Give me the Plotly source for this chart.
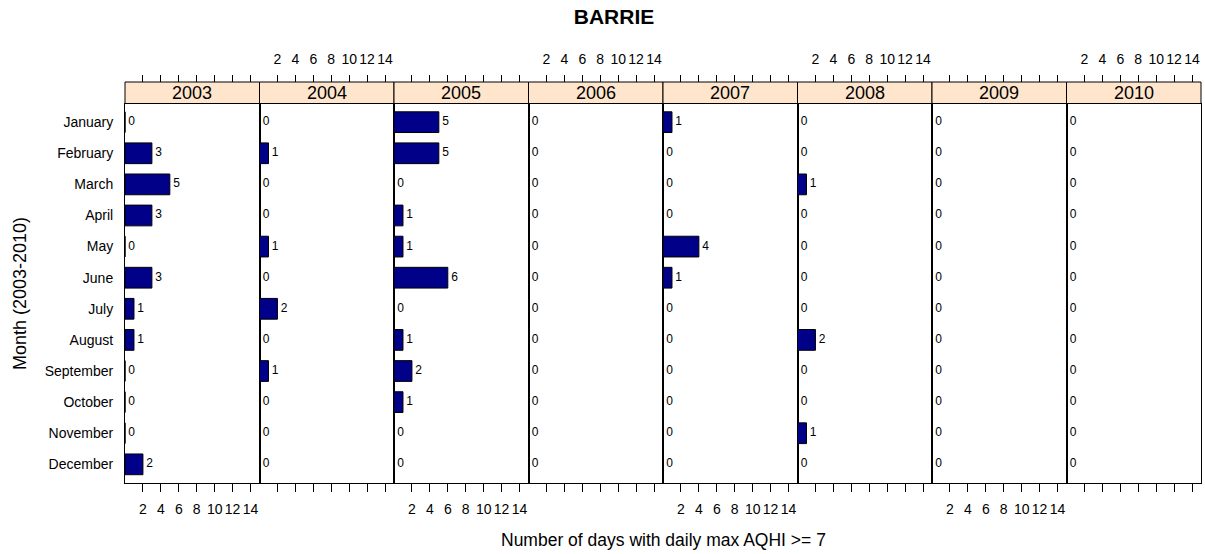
import plotly.graph_objects as go
from plotly.subplots import make_subplots

months = ["January", "February", "March", "April", "May", "June", "July",
          "August", "September", "October", "November", "December"]
years = ["2003", "2004", "2005", "2006", "2007", "2008", "2009", "2010"]

days_2003 = [0, 3, 5, 3, 0, 3, 1, 1, 0, 0, 0, 2]
days_2004 = [0, 1, 0, 0, 1, 0, 2, 0, 1, 0, 0, 0]
days_2005 = [5, 5, 0, 1, 1, 6, 0, 1, 2, 1, 0, 0]
days_2006 = [0, 0, 0, 0, 0, 0, 0, 0, 0, 0, 0, 0]
days_2007 = [1, 0, 0, 0, 4, 1, 0, 0, 0, 0, 0, 0]
days_2008 = [0, 0, 1, 0, 0, 0, 0, 2, 0, 0, 1, 0]
days_2009 = [0, 0, 0, 0, 0, 0, 0, 0, 0, 0, 0, 0]
days_2010 = [0, 0, 0, 0, 0, 0, 0, 0, 0, 0, 0, 0]
series = [days_2003, days_2004, days_2005, days_2006,
          days_2007, days_2008, days_2009, days_2010]

tick_vals = [2, 4, 6, 8, 10, 12, 14]
x_range = [0, 15]

FONT = "Liberation Sans, Arial, sans-serif"
W, H = 1205, 554
ML, MR, MT, MB = 125, 4, 82, 71
plot_h = H - MT - MB
plot_w = W - ML - MR
panel_bottom_ref = 483
panel_top = (panel_bottom_ref - 103.5) / plot_h  # panel domain top, strip above

n = len(years)
fig = make_subplots(rows=1, cols=n, shared_yaxes=True, horizontal_spacing=0)

for i, (yr, vals) in enumerate(zip(years, series)):
    fig.add_trace(go.Bar(
        x=vals, y=months, orientation="h",
        marker=dict(color="#000088", line=dict(color="black", width=1)),
        showlegend=False, hoverinfo="skip"), row=1, col=i + 1)
    fig.add_trace(go.Scatter(
        x=vals, y=months, mode="text", text=[" " + str(v) for v in vals],
        textposition="middle right",
        textfont=dict(size=12, color="black", family=FONT),
        cliponaxis=False, showlegend=False, hoverinfo="skip"), row=1, col=i + 1)

layout_upd = {}
for i in range(n):
    k = "" if i == 0 else str(i + 1)
    d0, d1 = i / n, (i + 1) / n
    layout_upd["xaxis" + k] = dict(
        domain=[d0, d1], range=x_range, tickvals=tick_vals,
        ticktext=[str(v) for v in tick_vals], tickangle=0,
        showticklabels=(i % 2 == 0), ticks="outside", ticklen=8,
        ticklabelstandoff=5,
        tickcolor="black", tickwidth=1, showline=True, linecolor="black",
        linewidth=1, mirror=True, showgrid=False, zeroline=False,
        tickfont=dict(size=14, color="black", family=FONT), fixedrange=True)
    layout_upd["yaxis" + k] = dict(
        domain=[0, panel_top], showline=True, linecolor="black",
        linewidth=1, mirror=True, showgrid=False, zeroline=False,
        categoryorder="array", categoryarray=months,
        range=[11.6, -0.6], ticks="", showticklabels=(i == 0),
        ticklabelstandoff=8,
        tickfont=dict(size=14, color="black", family=FONT), fixedrange=True)
    # top axis, above the strip
    tk = str(n + i + 1)
    layout_upd["xaxis" + tk] = dict(
        overlaying="x" + k, anchor="free",
        position=1, side="top", range=x_range, tickvals=tick_vals,
        ticktext=[str(v) for v in tick_vals], tickangle=0,
        showticklabels=(i % 2 == 1), ticks="outside", ticklen=7,
        ticklabelstandoff=5,
        tickcolor="black", tickwidth=1, showline=False, showgrid=False,
        zeroline=False, tickfont=dict(size=14, color="black", family=FONT),
        fixedrange=True)
    fig.add_trace(go.Scatter(x=[None], y=[None], xaxis="x" + tk,
                             yaxis="y" + k, showlegend=False,
                             hoverinfo="skip"))

fig.update_layout(**layout_upd)

shapes = []
annotations = []
for i, yr in enumerate(years):
    xr = "x" + ("" if i == 0 else str(i + 1)) + " domain"
    shapes.append(dict(type="rect", xref=xr, yref="paper", x0=0, x1=1,
                       y0=panel_top, y1=1, fillcolor="#FFE5CC",
                       line=dict(color="black", width=1), layer="above"))
    annotations.append(dict(text=yr, xref=xr, yref="paper", x=0.5,
                            y=(panel_top + 1) / 2, showarrow=False,
                            xanchor="center", yanchor="middle",
                            font=dict(size=18, color="black", family=FONT)))

annotations.append(dict(text="Number of days with daily max AQHI >= 7",
                        xref="paper", yref="paper", x=0.5,
                        y=(panel_bottom_ref - 540) / plot_h, showarrow=False,
                        xanchor="center", yanchor="middle",
                        font=dict(size=17.5, color="black", family=FONT)))
annotations.append(dict(text="Month (2003-2010)", xref="paper", yref="paper",
                        x=(20 - ML) / plot_w, y=(panel_bottom_ref - 294) / plot_h,
                        textangle=-90, showarrow=False, xanchor="center",
                        yanchor="middle",
                        font=dict(size=18, color="black", family=FONT)))

fig.update_layout(
    width=W, height=H,
    margin=dict(l=ML, r=MR, t=MT, b=MB, autoexpand=False),
    paper_bgcolor="white", plot_bgcolor="white",
    bargap=1 / 3,
    shapes=shapes, annotations=annotations,
    title=dict(text="<b>BARRIE</b>", x=614 / W, xref="container",
               y=1 - 17 / H, yref="container", xanchor="center",
               yanchor="middle", font=dict(size=21, color="black", family=FONT)),
    font=dict(family=FONT, color="black"),
)

fig.write_html(
    "out.html",
    config={"displayModeBar": False},
    post_script="document.body.style.margin='0';"
                "document.body.style.padding='0';"
                "document.body.style.overflow='hidden';",
)
